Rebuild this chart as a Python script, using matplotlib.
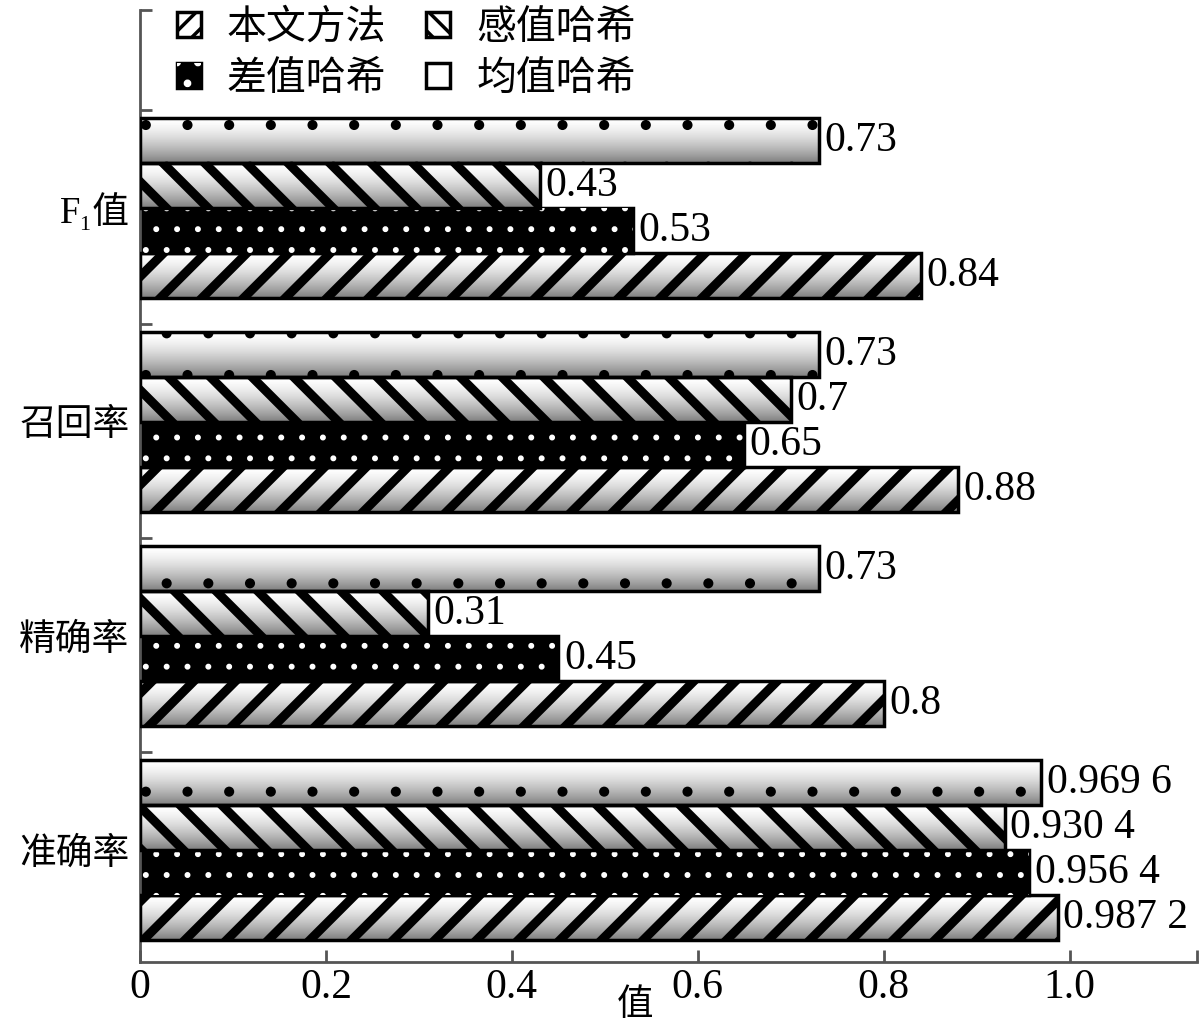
import numpy as np
import matplotlib
matplotlib.use("Agg")
import matplotlib.pyplot as plt
from matplotlib.patches import Patch

# ---------------- data ----------------
categories = ["准确率", "精确率", "召回率", "F₁值"]
series_names = ["本文方法", "差值哈希", "感值哈希", "均值哈希"]
ours = [0.9872, 0.80, 0.88, 0.84]      # 本文方法
dhash = [0.9564, 0.45, 0.65, 0.53]     # 差值哈希
phash = [0.9304, 0.31, 0.70, 0.43]     # 感值哈希
ahash = [0.9696, 0.73, 0.73, 0.73]     # 均值哈希
xticks = [0, 0.2, 0.4, 0.6, 0.8, 1.0]
xtick_labels = ["0", "0.2", "0.4", "0.6", "0.8", "1.0"]
xlabel = "值"

# ---------------- style ----------------
DPI = 250
W, H = 1200, 1031
fontlist = ["Liberation Serif", "Noto Sans CJK SC", "DejaVu Sans"]
plt.rcParams["font.family"] = fontlist
AX_COLOR = "#555555"

fig = plt.figure(figsize=(W / DPI, H / DPI), dpi=DPI)
ax = fig.add_axes([140 / W, 1 - 962 / H, 1057 / W, 952 / H])

y = np.arange(len(categories))
h = 0.21
offsets = [-1.5 * h, -0.5 * h, 0.5 * h, 1.5 * h]
values = [ours, dhash, phash, ahash]
styles = [
    dict(hatch="//", grad=True, hcolor="black", hlw=2.6, leg_hatch="////"),
    dict(hatch="..", grad=False, hcolor="white", hlw=0.5, leg_hatch=".."),
    dict(hatch="\\\\", grad=True, hcolor="black", hlw=2.6, leg_hatch="\\\\\\\\"),
    dict(hatch=".", grad=True, hcolor="black", hlw=0.5, leg_hatch="."),
]

shade = 1 - 0.5 * np.linspace(0, 1, 64) ** 1.5
grad_img = shade[:, None]


def fmt(v):
    s = f"{v:g}"
    if "." in s:
        a, b = s.split(".")
        if len(b) > 3:
            b = b[:3] + " " + b[3:]
        s = a + "." + b
    return s


def set_hlw(artists, lw):
    for a in artists:
        if hasattr(a, "set_hatch_linewidth"):
            a.set_hatch_linewidth(lw)


for vals, off, st in zip(values, offsets, styles):
    pos = y + off
    if st["grad"]:
        with plt.rc_context({"hatch.linewidth": st["hlw"]}):
            bars = ax.barh(pos, vals, height=h, facecolor="none",
                           edgecolor=st["hcolor"], hatch=st["hatch"],
                           linewidth=1.0, zorder=3)
        set_hlw(bars, st["hlw"])
        for p in bars:
            x0, y0 = p.get_x(), p.get_y()
            im = ax.imshow(grad_img, extent=[x0, x0 + p.get_width(), y0, y0 + p.get_height()],
                           aspect="auto", cmap="gray", vmin=0, vmax=1,
                           interpolation="bilinear", zorder=2)
            im.set_clip_path(p)
    else:
        ax.barh(pos, vals, height=h, facecolor="black", edgecolor="black",
                linewidth=1.0, zorder=2)
        with plt.rc_context({"hatch.linewidth": st["hlw"]}):
            bars = ax.barh(pos, vals, height=h, facecolor="none",
                           edgecolor=st["hcolor"], hatch=st["hatch"],
                           linewidth=0, zorder=3)
        set_hlw(bars, st["hlw"])
    for yy, v in zip(pos, vals):
        ax.annotate(fmt(v), xy=(v, yy), xytext=(1.6, 0), textcoords="offset points",
                    ha="left", va="center", fontsize=12, zorder=4)

# axes limits / ticks
ax.set_xlim(0, 1.137)
ax.set_ylim(-0.523, 3.925)
ax.set_xticks(xticks, xtick_labels, fontsize=12)
ax.set_xticks([1.137], minor=True)
ax.set_yticks(y, categories, fontsize=10.6)
ax.set_yticks(list(y + 0.456) + [3.925], minor=True)
ax.tick_params(axis="y", which="major", length=0, pad=3)
ax.tick_params(axis="y", which="minor", direction="in", length=3.5, width=0.8, color=AX_COLOR)
ax.tick_params(axis="x", which="both", direction="in", length=3.5, width=0.8,
               color=AX_COLOR, pad=2)
for s in ["top", "right"]:
    ax.spines[s].set_visible(False)
for s in ["left", "bottom"]:
    ax.spines[s].set_color(AX_COLOR)
    ax.spines[s].set_linewidth(0.8)

ax.set_xlabel(xlabel, fontsize=10.5)
ax.xaxis.set_label_coords(0.468, -0.029)

# legend
handles = []
for st in styles:
    if st["grad"]:
        with plt.rc_context({"hatch.linewidth": 1.2}):
            hp = Patch(facecolor="white", edgecolor="black", hatch=st["leg_hatch"],
                       linewidth=1.0)
        set_hlw([hp], 1.2)
        handles.append(hp)
    else:
        base = Patch(facecolor="black", edgecolor="black", linewidth=1.0)
        with plt.rc_context({"hatch.linewidth": 0.5}):
            over = Patch(facecolor="none", edgecolor="white", hatch=st["leg_hatch"], linewidth=0)
        set_hlw([over], 0.5)
        handles.append((base, over))

leg = ax.legend(handles, series_names, ncol=2, loc="upper left",
                bbox_to_anchor=(0.035, 1.0), frameon=False, fontsize=11.5,
                handlelength=0.6, handleheight=0.6, handletextpad=0.65,
                columnspacing=1.0, labelspacing=0.35, borderpad=0, borderaxespad=0)

fig.savefig("out.png", dpi=DPI)
